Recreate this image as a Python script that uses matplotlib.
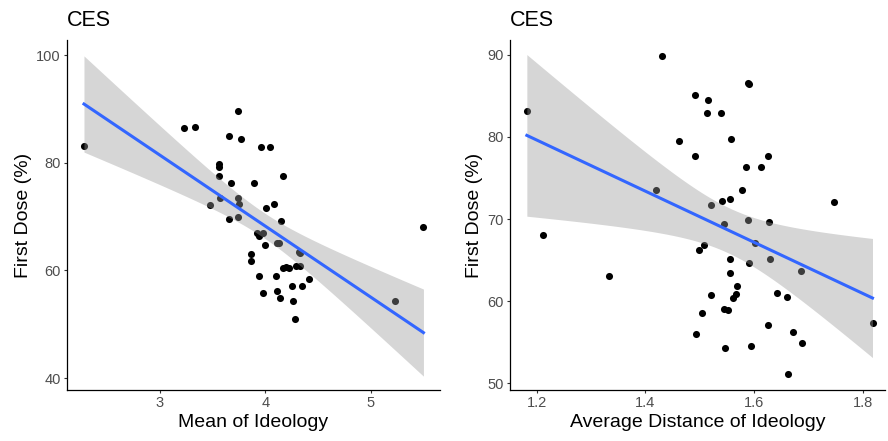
import numpy as np
import matplotlib.pyplot as plt

plt.rcParams['font.family'] = ['Liberation Sans', 'DejaVu Sans']

# Panel 1: mean of ideology vs first dose
meanIdeology = [2.28, 3.23, 3.33, 3.74, 3.66, 3.77, 3.96, 4.04, 3.56, 3.56,
                3.56, 4.17, 3.67, 3.89, 3.74, 3.57, 3.75, 3.48, 4.08, 4.01,
                4.15, 3.66, 3.74, 3.92, 3.94, 3.98, 4.00, 4.11, 4.13, 3.86,
                3.86, 4.32, 4.33, 4.17, 4.22, 4.20, 4.29, 4.33, 3.94, 4.10,
                4.41, 4.25, 4.35, 3.98, 4.11, 4.14, 4.26, 4.28, 5.23, 5.50]
doseLeft = [83.1, 86.4, 86.6, 89.7, 85.0, 84.5, 82.9, 82.9, 79.7, 79.3,
            77.6, 77.6, 76.3, 76.3, 73.4, 73.5, 72.3, 72.1, 72.4, 71.6,
            69.2, 69.6, 69.9, 67.0, 66.4, 66.9, 64.7, 65.1, 65.1, 63.1,
            61.7, 63.5, 63.3, 60.4, 60.4, 60.6, 60.9, 60.9, 58.9, 59.0,
            58.5, 57.1, 57.2, 55.9, 56.2, 54.9, 54.4, 51.0, 54.3, 68.1]

# Panel 2: average distance of ideology vs first dose
avgDistance = [1.182, 1.212, 1.334, 1.420, 1.431, 1.462, 1.491, 1.491, 1.515, 1.513,
               1.540, 1.557, 1.588, 1.591, 1.585, 1.612, 1.626, 1.578, 1.748, 1.541,
               1.555, 1.520, 1.544, 1.589, 1.627, 1.602, 1.508, 1.498, 1.555, 1.591,
               1.629, 1.687, 1.556, 1.569, 1.566, 1.561, 1.521, 1.642, 1.660, 1.505,
               1.545, 1.552, 1.626, 1.818, 1.493, 1.672, 1.689, 1.547, 1.594, 1.662]
doseRight = [83.2, 68.1, 63.1, 73.5, 89.8, 79.5, 77.7, 85.1, 84.5, 82.9,
             82.9, 79.8, 86.6, 86.5, 76.4, 76.4, 77.7, 73.6, 72.1, 72.2,
             72.5, 71.7, 69.4, 69.9, 69.6, 67.1, 66.9, 66.3, 65.2, 64.7,
             65.1, 63.7, 63.5, 61.8, 60.9, 60.4, 60.8, 61.0, 60.5, 58.6,
             59.1, 58.9, 57.1, 57.3, 56.0, 56.2, 54.9, 54.3, 54.5, 51.1]

titles = ["CES", "CES"]
xlabels = ["Mean of Ideology", "Average Distance of Ideology"]
ylabel = "First Dose (%)"
xticksLeft = [3, 4, 5]
yticksLeft = [40, 60, 80, 100]
xticksRight = [1.2, 1.4, 1.6, 1.8]
yticksRight = [50, 60, 70, 80, 90]


def smooth(ax, x, y):
    # linear fit with 95% confidence band, like geom_smooth(method="lm")
    x = np.asarray(x)
    y = np.asarray(y)
    n = len(x)
    slope, intercept = np.polyfit(x, y, 1)
    resid = y - (intercept + slope * x)
    s = np.sqrt(np.sum(resid ** 2) / (n - 2))
    xs = np.linspace(x.min(), x.max(), 80)
    fit = intercept + slope * xs
    se = s * np.sqrt(1 / n + (xs - x.mean()) ** 2 / np.sum((x - x.mean()) ** 2))
    t = 2.011
    ax.fill_between(xs, fit - t * se, fit + t * se, color='#999999', alpha=0.4,
                    linewidth=0, zorder=2)
    ax.plot(xs, fit, color='#3366FF', linewidth=2.2, zorder=3)


def panel(ax, x, y, title, xlabel, xticks, yticks, xlim, ylim):
    ax.scatter(x, y, s=26, color='black', linewidths=0, zorder=1)
    smooth(ax, x, y)
    ax.set_xlim(*xlim)
    ax.set_ylim(*ylim)
    ax.set_xticks(xticks)
    ax.set_yticks(yticks)
    ax.set_xticklabels([f"{v:g}" if isinstance(v, int) else f"{v:.1f}" for v in xticks])
    ax.set_xlabel(xlabel, fontsize=14, labelpad=3)
    ax.set_ylabel(ylabel, fontsize=14, labelpad=3)
    ax.set_title(title, fontsize=15.5, loc='left', pad=10)
    for side in ['top', 'right']:
        ax.spines[side].set_visible(False)
    for side in ['left', 'bottom']:
        ax.spines[side].set_linewidth(0.9)
    ax.tick_params(length=2.5, width=0.8, color='#333333', labelcolor='#4D4D4D',
                   labelsize=10.5, pad=2)


fig = plt.figure(figsize=(8.88, 4.41), dpi=100)
ax1 = fig.add_axes([67 / 888, 51 / 441, 373 / 888, 350 / 441])
ax2 = fig.add_axes([510 / 888, 51 / 441, 375 / 888, 350 / 441])

panel(ax1, meanIdeology, doseLeft, titles[0], xlabels[0], xticksLeft, yticksLeft,
      (2.119, 5.657), (37.8, 102.8))
panel(ax2, avgDistance, doseRight, titles[1], xlabels[1], xticksRight, yticksRight,
      (1.151, 1.841), (49.2, 91.8))

fig.savefig("out.png", dpi=100)
